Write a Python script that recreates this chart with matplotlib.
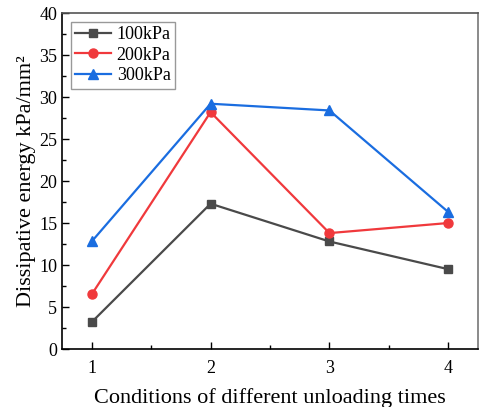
import numpy as np
import matplotlib.pyplot as plt
from matplotlib.ticker import MultipleLocator

plt.rcParams['font.family'] = ['Liberation Serif', 'DejaVu Serif']
plt.rcParams['mathtext.fontset'] = 'stix'

# dissipative energy for each unloading condition
conditions = [1, 2, 3, 4]
e_100 = [3.2, 17.3, 12.8, 9.5]
e_200 = [6.5, 28.2, 13.8, 15.0]
e_300 = [12.8, 29.2, 28.4, 16.3]

fig = plt.figure(figsize=(4.79, 4.07), dpi=100)
ax = fig.add_axes([0.1294, 0.1425, 0.8686, 0.8255])

ax.plot(conditions, e_100, color='#4a4a4a', marker='s', ms=6, lw=1.6, label='100kPa')
ax.plot(conditions, e_200, color='#f0393c', marker='o', ms=6.5, lw=1.6, label='200kPa')
ax.plot(conditions, e_300, color='#1a6de0', marker='^', ms=7, lw=1.6, label='300kPa')

ax.set_xlim(0.75, 4.25)
ax.set_ylim(0, 40)
ax.xaxis.set_major_locator(MultipleLocator(1))
ax.xaxis.set_minor_locator(MultipleLocator(0.5))
ax.yaxis.set_major_locator(MultipleLocator(5))
ax.yaxis.set_minor_locator(MultipleLocator(2.5))
ax.tick_params(which='both', direction='in', top=False, right=False, labelsize=13)
ax.tick_params(which='major', length=5, width=1)
ax.tick_params(which='minor', length=3, width=1)
ax.tick_params(axis='x', pad=8)
for s in ax.spines.values():
    s.set_linewidth(1.2)
ax.spines['top'].set_color('#555555')
ax.spines['right'].set_color('#777777')

ax.set_xlabel('Conditions of different unloading times', fontsize=16, labelpad=8)
ax.set_ylabel('Dissipative energy kPa/mm²', fontsize=16, labelpad=2)

leg = ax.legend(loc='upper left', bbox_to_anchor=(0.012, 0.985), fontsize=13,
                fancybox=False, framealpha=1, edgecolor='#999999',
                handlelength=2.0, borderpad=0.25, labelspacing=0.2, handletextpad=0.3,
                borderaxespad=0.2)

plt.savefig('out.png', dpi=100)
